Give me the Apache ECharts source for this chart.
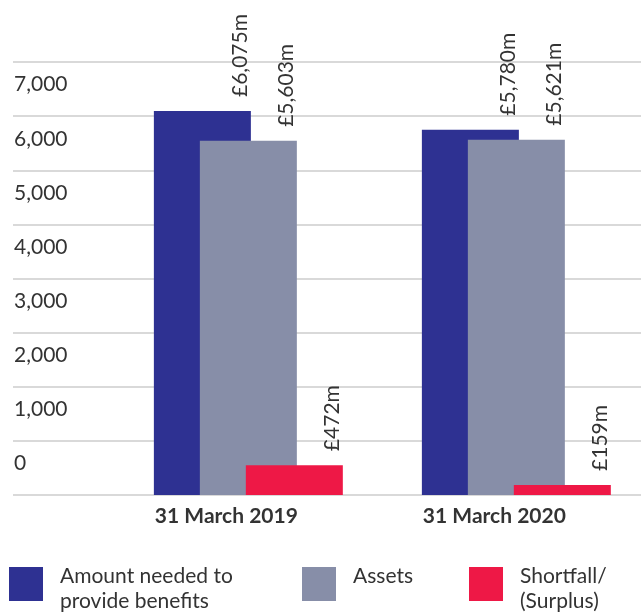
<!DOCTYPE html>
<html><head><meta charset="utf-8">
<script src="https://cdn.jsdelivr.net/npm/echarts@6/dist/echarts.min.js"></script>
<style>html,body{margin:0;padding:0;background:#fff}#chart{width:641px;height:616px}</style>
</head><body><div id="chart"></div>
<script>
const categories = ['31 March 2019', '31 March 2020'];
const seriesNames = ['Amount needed to\nprovide benefits', 'Assets', 'Shortfall/\n(Surplus)'];
const amountNeeded = [6075, 5780];
const assets = [5603, 5621];
const shortfall = [472, 159];
const yTickLabels = ['0', '1,000', '2,000', '3,000', '4,000', '5,000', '6,000', '7,000'];

const colors = ['#2e3192', '#878ea8', '#ee1846'];
const FONT = '"Source Sans Pro", Lato, "Noto Sans", sans-serif';
const TEXT = '#333333';

function fmt(v) { return String(v).replace(/\B(?=(\d{3})+(?!\d))/g, ','); }

function valueLabel() {
  return {
    show: true, position: ['100%', -10], rotate: 90, align: 'left', verticalAlign: 'bottom',
    offset: [4, 0],
    formatter: p => '£' + fmt(p.value) + 'm',
    fontFamily: FONT, fontSize: 21, color: TEXT
  };
}

function barSeries(i, data) {
  return {
    type: 'bar', name: seriesNames[i], xAxisIndex: 1, yAxisIndex: 1, data: data,
    barWidth: 97, barGap: '-52.6%', itemStyle: { color: colors[i] }, label: valueLabel()
  };
}

function legendItem(i, left) {
  return {
    data: [seriesNames[i]], left: left, top: 554, padding: 0, itemGap: 0,
    itemWidth: 34, itemHeight: 34, icon: 'rect',
    formatter: name => '{sp| }\n' + name + (name.indexOf('\n') < 0 ? '\n\u00a0' : ''),
    textStyle: { fontFamily: FONT, fontSize: 21, lineHeight: 25, color: TEXT, padding: [0, 0, 0, 12],
      rich: { sp: { fontSize: 2, lineHeight: 10 } } }
  };
}

const chart = echarts.init(document.getElementById('chart'));
chart.setOption({
  animation: false,
  backgroundColor: '#fff',
  grid: [
    { left: 13, right: 0, top: 62, bottom: 121, outerBoundsMode: 'none' },
    { left: 114.35, width: 536, top: 62, bottom: 121, outerBoundsMode: 'none' },
    { left: 13, right: 0, top: 30.5, bottom: 152.5, outerBoundsMode: 'none' }
  ],
  xAxis: [
    { gridIndex: 0, type: 'value', show: false },
    { gridIndex: 1, type: 'category', data: categories,
      axisLine: { show: false }, axisTick: { show: false },
      axisLabel: { fontFamily: FONT, fontWeight: 'bold', fontSize: 21, color: TEXT, margin: 11, padding: [0, 44, 0, 0] } },
    { gridIndex: 2, type: 'value', show: false }
  ],
  yAxis: [
    { gridIndex: 0, type: 'value', min: 0, max: 8000, interval: 1000,
      axisLine: { show: false }, axisTick: { show: false }, axisLabel: { show: false },
      splitLine: { lineStyle: { color: '#d9d9d9', width: 2 } } },
    { gridIndex: 1, type: 'value', min: 0, max: 6850, show: false },
    { gridIndex: 2, type: 'value', min: 0, max: 8000, interval: 1000,
      axisLine: { show: false }, axisTick: { show: false }, splitLine: { show: false },
      axisLabel: { inside: true, margin: 1, align: 'left', verticalAlign: 'middle',
        showMinLabel: true, showMaxLabel: true,
        fontFamily: FONT, fontSize: 21, color: TEXT,
        formatter: v => yTickLabels[Math.round(v / 1000)] || '' } }
  ],
  legend: [
    legendItem(0, 9),
    legendItem(1, 302),
    legendItem(2, 469)
  ],
  series: [
    barSeries(0, amountNeeded),
    barSeries(1, assets),
    barSeries(2, shortfall)
  ]
});
</script></body></html>
